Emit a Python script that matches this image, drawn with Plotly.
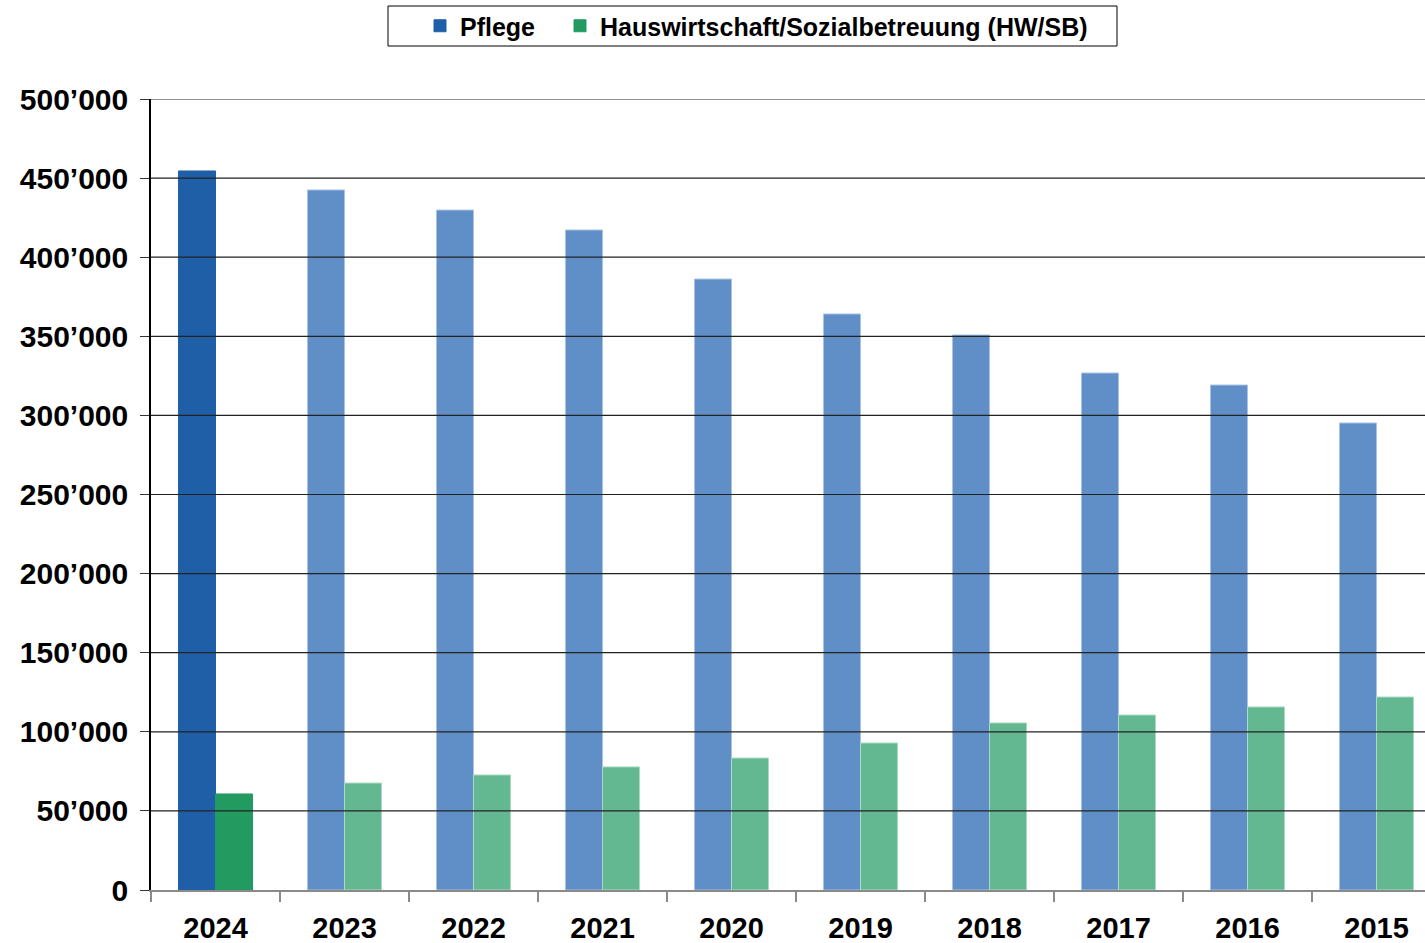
import plotly.graph_objects as go

years = ["2024", "2023", "2022", "2021", "2020", "2019", "2018", "2017", "2016", "2015"]
pflege = [454500, 442500, 429800, 417200, 386200, 364100, 350800, 326800, 319200, 295200]
hwsb = [60700, 67600, 72700, 77800, 83400, 92900, 105600, 110600, 115700, 122000]
ytick_vals = [0, 50000, 100000, 150000, 200000, 250000, 300000, 350000, 400000, 450000, 500000]
ytick_text = ["0", "50’000", "100’000", "150’000", "200’000", "250’000", "300’000",
              "350’000", "400’000", "450’000", "500’000"]

blue_light, blue_dark = "#5F8FC6", "#1F5FA8"
green_light, green_dark = "#63B892", "#229A60"

# page-pixel -> paper helpers (plot area spans x 151..1425, y 99..890 on the page)
PL, PW, PT, PB = 151, 1274, 99, 890
def px(x):
    return (x - PL) / PW
def py(y):
    return (PB - y) / (PB - PT)

fig = go.Figure()
fig.add_trace(go.Bar(
    name="Pflege", x=years, y=pflege, legend="legend",
    marker=dict(color=[blue_dark] + [blue_light] * (len(years) - 1),
                line=dict(color=["#1F5FA8"] + ["#A9C3E2"] * (len(years) - 1), width=1)),
))
fig.add_trace(go.Bar(
    name="Hauswirtschaft/Sozialbetreuung (HW/SB)", x=years, y=hwsb, legend="legend2",
    marker=dict(color=[green_dark] + [green_light] * (len(years) - 1),
                line=dict(color=["#229A60"] + ["#A8DCC3"] * (len(years) - 1), width=1)),
))

for v in ytick_vals[1:]:
    fig.add_hline(y=v, layer="above", line=dict(color="#222222", width=1.2))

# legend frame
fig.add_shape(type="rect", xref="paper", yref="paper",
              x0=px(388), x1=px(1117), y0=py(46), y1=py(6),
              line=dict(color="black", width=1), fillcolor="white", layer="below")

font = dict(family="Liberation Sans, Arial, sans-serif", color="black", weight="bold")
leg_common = dict(orientation="h", xanchor="left", yanchor="top", y=py(3),
                  borderwidth=0, bgcolor="rgba(0,0,0,0)", font=dict(size=25, **font))

fig.update_layout(
    width=1425, height=943,
    margin=dict(l=151, r=0, t=99, b=53),
    paper_bgcolor="white", plot_bgcolor="white",
    barmode="group", bargap=0.426, bargroupgap=0,
    showlegend=True,
    legend=dict(x=px(420), **leg_common),
    legend2=dict(x=px(560), **leg_common),
    xaxis=dict(
        range=[-0.5, 9.376], fixedrange=True,
        showline=True, linecolor="#8a8a8a", linewidth=2,
        ticks="outside", tickson="boundaries", ticklen=10, tickcolor="#8a8a8a", tickwidth=2,
        tickfont=dict(size=29, **font), ticklabelstandoff=11,
        showgrid=False,
    ),
    yaxis=dict(
        range=[0, 500000],
        tickvals=ytick_vals, ticktext=ytick_text,
        showline=True, linecolor="black", linewidth=1.5,
        ticks="outside", ticklen=9, tickcolor="#333333", tickwidth=1.2,
        tickfont=dict(size=30, **font), ticklabelstandoff=6,
        showgrid=False, zeroline=False,
    ),
)

fig.write_html(
    "out.html",
    config={"displayModeBar": False},
    post_script="document.body.style.margin='0';document.documentElement.style.overflow='hidden';",
)
